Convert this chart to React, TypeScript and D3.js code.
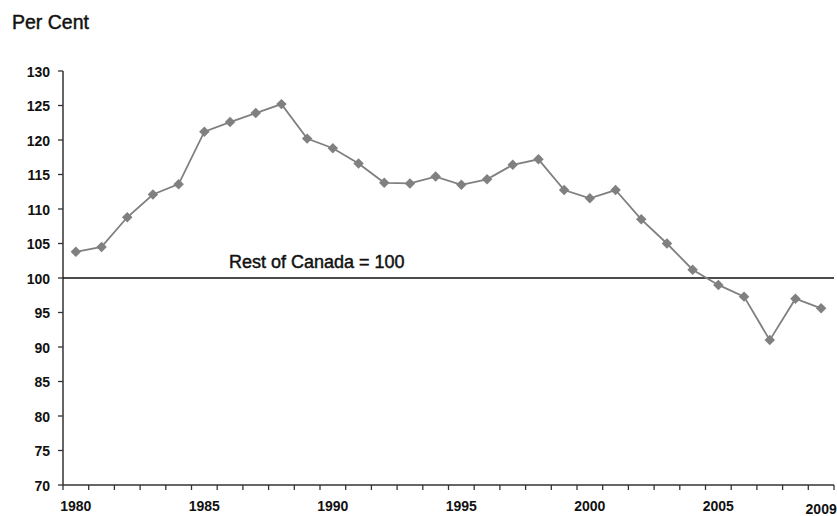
import React from "react";
import * as d3 from "d3";

const years: number[] = d3.range(1980, 2010);
const values: number[] = [
  103.8, 104.5, 108.8, 112.1, 113.6, 121.2, 122.6, 123.9, 125.2, 120.2,
  118.8, 116.6, 113.8, 113.7, 114.7, 113.5, 114.3, 116.4, 117.2, 112.75,
  111.55, 112.75, 108.5, 105.0, 101.2, 99.0, 97.3, 91.0, 97.0, 95.6,
];
const yTicks: number[] = d3.range(70, 131, 5);
const xLabelYears: number[] = [1980, 1985, 1990, 1995, 2000, 2005, 2009];
const referenceValue = 100;
const referenceLabel = "Rest of Canada = 100";
const yTitle = "Per Cent";

const W = 837;
const H = 516;
const FONT = "'Liberation Sans', Arial, sans-serif";

export default function App() {
  const left = 63;
  const right = 834;
  const top = 71;
  const bottom = 485;

  const x = d3
    .scaleBand<number>()
    .domain(years)
    .range([left, right])
    .paddingInner(0)
    .paddingOuter(0);
  const y = d3.scaleLinear().domain([70, 130]).range([bottom, top]);
  const cx = (yr: number) => (x(yr) as number) + x.bandwidth() / 2;

  const line = d3
    .line<number>()
    .x((_, i) => cx(years[i]))
    .y((d) => y(d));

  const diamond = d3.symbol().type(d3.symbolDiamond2).size(70)();

  const axisColor = "#333";
  const gray = "#808080";

  return (
    <svg
      width={W}
      height={H}
      style={{ position: "absolute", left: 0, top: 0, background: "#fff" }}
      fontFamily={FONT}
    >
      <rect x={0} y={0} width={W} height={H} fill="#fff" />
      <text x={12} y={29} fontSize={19.5} fill="#111" stroke="#111" strokeWidth={0.45}>
        {yTitle}
      </text>

      {/* y axis */}
      <line x1={left} x2={left} y1={top} y2={bottom} stroke={axisColor} strokeWidth={1.5} />
      {yTicks.map((t) => (
        <g key={t}>
          <line x1={left - 5} x2={left} y1={y(t)} y2={y(t)} stroke={axisColor} strokeWidth={1.3} />
          <text
            x={left - 13}
            y={y(t) + 1}
            dy="0.35em"
            textAnchor="end"
            fontSize={14}
            fontWeight="bold"
            fill="#111"
          >
            {t}
          </text>
        </g>
      ))}

      {/* x axis */}
      <line x1={left} x2={right} y1={bottom} y2={bottom} stroke={axisColor} strokeWidth={1.5} />
      {years.concat([2010]).map((yr, i) => {
        const px = i < years.length ? (x(yr) as number) : right;
        return (
          <line key={yr} x1={px} x2={px} y1={bottom} y2={bottom + 5} stroke={axisColor} strokeWidth={1.3} />
        );
      })}
      {xLabelYears.map((yr) => (
        <text
          key={yr}
          x={cx(yr)}
          y={yr === 2009 ? 514 : 510.5}
          textAnchor="middle"
          fontSize={14}
          fontWeight="bold"
          fill="#111"
        >
          {yr}
        </text>
      ))}

      {/* reference line */}
      <line
        x1={left}
        x2={right}
        y1={y(referenceValue)}
        y2={y(referenceValue)}
        stroke="#111"
        strokeWidth={1.6}
      />
      <text
        x={229}
        y={y(referenceValue) - 10}
        fontSize={18}
        fill="#111"
        stroke="#111"
        strokeWidth={0.45}
      >
        {referenceLabel}
      </text>

      {/* series */}
      <path d={line(values) || ""} fill="none" stroke={gray} strokeWidth={1.8} />
      {values.map((v, i) => (
        <path
          key={years[i]}
          d={diamond || ""}
          transform={`translate(${cx(years[i])},${y(v)})`}
          fill={gray}
        />
      ))}
    </svg>
  );
}
